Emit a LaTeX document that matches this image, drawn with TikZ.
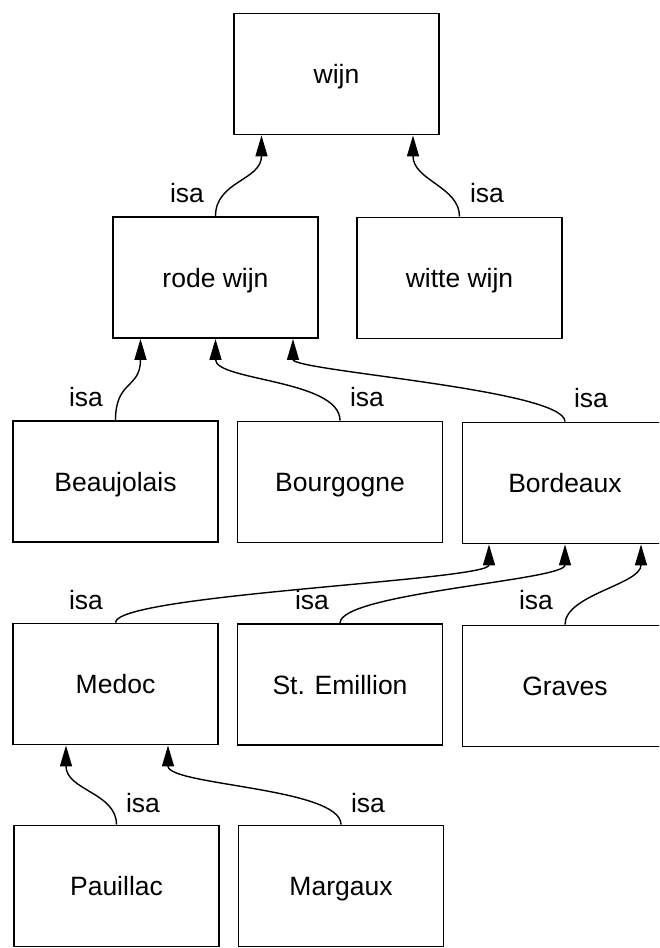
\documentclass[tikz,border=0pt]{standalone}
\usepackage{fontspec}
\setmainfont{Liberation Sans}
\usetikzlibrary{arrows.meta}
\begin{document}
\begin{tikzpicture}[x=1pt,y=-1pt,
  box/.style={draw, line width=1.8pt, minimum width=205pt, minimum height=121pt,
    inner sep=0pt, text height=19pt, text depth=0pt,
    font=\fontsize{26.5}{30}\selectfont},
  isa/.style={line width=1.4pt, -{Triangle[length=21pt,width=12pt]}},
  lbl/.style={inner sep=0pt, font=\fontsize{26.5}{30}\selectfont}]
\useasboundingbox (0,0) rectangle (659,948);
\clip (0,0) rectangle (659,948);

% concepts
\node[box] (wijn)   at (336.5,74)   {wijn};
\node[box] (rode)   at (215.5,277.5) {rode wijn};
\node[box] (witte)  at (459.5,278)  {witte wijn};
\node[box] (beau)   at (115.5,481.5) {Beaujolais};
\node[box] (bourg)  at (340,482)    {Bourgogne};
\node[box] (bord)   at (565,483)    {Bordeaux};
\node[box] (medoc)  at (115.5,684)  {Medoc};
\node[box] (stem)   at (340,684.5)  {St. Emillion};
\node[box] (graves) at (565,686)    {Graves};
\node[box] (pau)    at (116.5,886)  {Pauillac};
\node[box] (marg)   at (341,886)    {Margaux};

% isa links
\draw[isa] (rode.north) .. controls +(0,-35) and +(0,45) .. ([xshift=-75pt]wijn.south);
\draw[isa] (witte.north) .. controls +(0,-30) and +(0,45) .. ([xshift=76.5pt]wijn.south);
\draw[isa] (beau.north) .. controls +(0,-40) and +(0,50) .. ([xshift=-75pt]rode.south);
\draw[isa] (bourg.north) .. controls +(0,-41) and +(0,42) .. (rode.south);
\draw[isa] (bord.north) .. controls +(0,-32) and +(0,32) .. ([xshift=77.5pt]rode.south);
\draw[isa] (medoc.north) .. controls +(0,-28) and +(0,36) .. ([xshift=-76pt]bord.south);
\draw[isa] (stem.north) .. controls +(0,-30) and +(0,36) .. (bord.south);
\draw[isa] (graves.north) .. controls +(0,-30) and +(0,40) .. ([xshift=76pt]bord.south);
\draw[isa] (pau.north) .. controls +(0,-32) and +(0,45) .. ([xshift=-49.5pt]medoc.south);
\draw[isa] (marg.north) .. controls +(0,-37) and +(0,40) .. ([xshift=52.5pt]medoc.south);

% link labels
\node[lbl] (l1)  at (187,193) {isa};
\node[lbl] (l2)  at (487,193) {isa};
\node[lbl] (l3)  at (86,397)  {isa};
\node[lbl] (l4)  at (367,397) {isa};
\node[lbl] (l5)  at (591,398) {isa};
\node[lbl] (l6)  at (86,600)  {isa};
\node[lbl] (l7)  at (312,600) {isa};
\node[lbl] (l8)  at (536,600) {isa};
\node[lbl] (l9)  at (143,803) {isa};
\node[lbl] (l10) at (368,803) {isa};
\end{tikzpicture}
\end{document}
